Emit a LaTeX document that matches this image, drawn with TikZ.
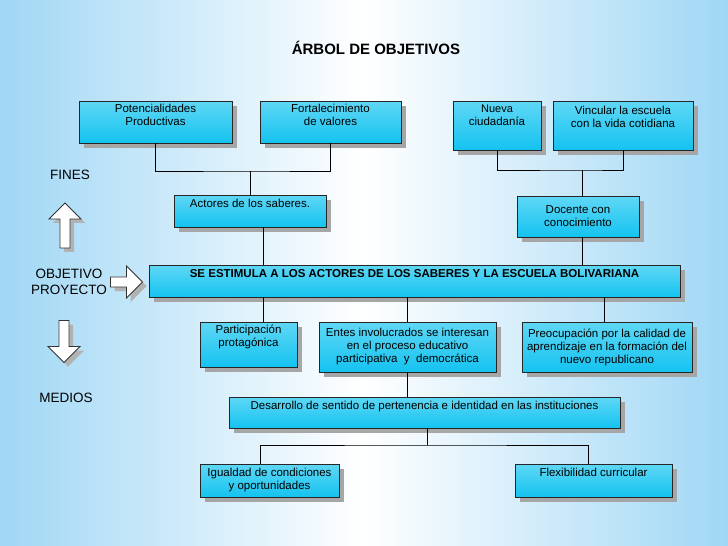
\documentclass[tikz,border=0pt]{standalone}
\usepackage{fontspec}
\setmainfont{Liberation Sans}
\usetikzlibrary{positioning,shadows,shapes.arrows}
\definecolor{cyantop}{RGB}{95,215,245}
\definecolor{cyanmid}{RGB}{200,245,252}
\definecolor{cyanbot}{RGB}{20,195,240}
\definecolor{bgside}{RGB}{160,215,245}
\tikzset{
  objbox/.style={draw=black!85, thick, top color=cyantop, middle color=cyanmid, bottom color=cyanbot,
    shading angle=0, drop shadow={shadow xshift=5pt, shadow yshift=-5pt, fill=black!35, opacity=1},
    align=center, inner sep=1pt, font=\fontsize{11.5}{13}\selectfont},
  sidelbl/.style={font=\fontsize{13.5}{16}\selectfont, align=center},
  hollow/.style={single arrow, draw=black!80, thick, fill=white, single arrow head extend=8pt,
    drop shadow={shadow xshift=4pt, shadow yshift=-4pt, fill=black!30, opacity=1}},
  link/.style={thick, black}
}
\newcommand{\bx}[6]{% name, x1, y1, x2, y2, text
  \node[objbox, minimum width={#4pt-#2pt}, minimum height={#5pt-#3pt}] (#1) at ({(#2+#4)/2*1pt},{-(#3+#5)/2*1pt}) {#6};}
\begin{document}
\begin{tikzpicture}[x=1pt,y=1pt]
  \shade[left color=bgside, right color=bgside, middle color=white] (0,0) rectangle (728,-546);
  \useasboundingbox (0,0) rectangle (728,-546);
  \node[font=\bfseries\fontsize{15}{18}\selectfont] (title) at (376,-48) {ÁRBOL DE OBJETIVOS};
  % fines
  \bx{pot}{79}{101}{232}{143}{Potencialidades\\Productivas\\[1pt]}
  \bx{fort}{260}{101}{401}{143}{Fortalecimiento\\de valores\\[1pt]}
  \bx{nue}{453}{101}{541}{150}{\fontsize{11}{13}\selectfont Nueva\\ciudadanía\\[8pt]}
  \bx{vin}{553}{101}{693}{150}{Vincular la escuela\\con la vida cotidiana\\[4pt]}
  \bx{act}{174}{195}{326}{227}{Actores de los saberes.\\[2pt]}
  \bx{doc}{517}{196}{639}{237}{Docente con\\conocimiento}
  % objetivo
  \bx{obj}{149}{265}{680}{297}{\bfseries SE ESTIMULA A LOS ACTORES DE LOS SABERES Y LA ESCUELA BOLIVARIANA\\[2pt]}
  % medios
  \bx{par}{200}{322}{297}{367}{Participación\\protagónica\\[5pt]}
  \bx{ent}{319}{322}{496}{372}{Entes involucrados se interesan\\en el proceso educativo\\participativa \ y \ democrática}
  \bx{pre}{522}{322}{692}{372}{Preocupación por la calidad de\\aprendizaje en la formación del\\nuevo republicano}
  \bx{des}{229}{397}{620}{428}{Desarrollo de sentido de pertenencia e identidad en las instituciones\\[2pt]}
  \bx{igu}{200}{464}{339}{497}{Igualdad de condiciones\\y oportunidades}
  \bx{fle}{515}{464}{672}{497}{Flexibilidad curricular\\[4pt]}
  % side labels
  \node[sidelbl] (fines) at (70,-175) {FINES};
  \node[sidelbl] (objp) at (69,-282) {OBJETIVO\\PROYECTO};
  \node[sidelbl] (medios) at (66,-398) {MEDIOS};
  \node[hollow, rotate=90, minimum width=32pt, minimum height=45pt] (up) at (65,-228) {};
  \node[hollow, minimum width=32pt, minimum height=32pt] (rgt) at (124,-282) {};
  \node[hollow, rotate=-90, minimum width=32pt, minimum height=42pt] (dwn) at (64,-339) {};
  % connectors
  \coordinate (jl) at (250,-171);
  \coordinate (jr) at (582,-170);
  \coordinate (jd) at (427,-445);
  \draw[link] (pot.south) |- (jl) -| (fort.south);
  \draw[link] (jl) -- (jl |- act.north);
  \draw[link] (nue.south) |- (jr) -| (vin.south);
  \draw[link] (jr) -- (jr |- doc.north);
  \draw[link] (263,-227) coordinate (a1) (a1) -- (a1 |- obj.north);
  \draw[link] (doc.south -| jr) -- (jr |- obj.north);
  \coordinate (m1) at (263,-297);
  \coordinate (m3) at (604,-297);
  \draw[link] (m1) -- (m1 |- par.north);
  \draw[link] (ent.north |- obj.south) -- (ent.north);
  \draw[link] (m3) -- (m3 |- pre.north);
  \draw[link] (ent.south) -- (ent.south |- des.north);
  \draw[link] (des.south -| jd) -- (jd);
  \draw[link] (260,-464) coordinate (b1) |- (jd) -| (588,-464) coordinate (b2);
\end{tikzpicture}
\end{document}
